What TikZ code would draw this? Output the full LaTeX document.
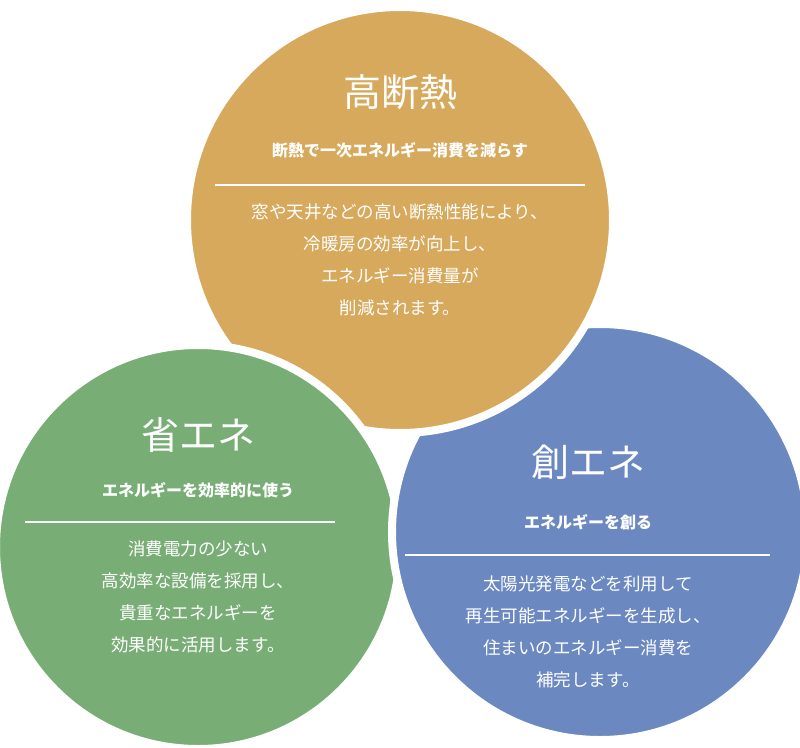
\documentclass[tikz,border=0pt]{standalone}
\usepackage{fontspec}
\newfontfamily\jp{Noto Sans CJK JP}
\tikzset{
 circ/.style={draw=white,line width=8pt},
 ttl/.style={text=white,font=\jp\fontsize{38}{40}\selectfont},
 sub/.style={text=white,font=\jp\bfseries\fontsize{16}{18}\selectfont},
 body/.style={text=white,align=center,font=\jp\fontsize{17.5}{32}\selectfont},
 sep/.style={draw=white,line width=1.5pt}
}
\definecolor{gold}{HTML}{D6A95C}
\definecolor{grn}{HTML}{78AE75}
\definecolor{blu}{HTML}{6B89C0}
\begin{document}
\begin{tikzpicture}[x=1pt,y=-1pt]
\useasboundingbox (0,0) rectangle (800,747);
\fill[white] (0,0) rectangle (800,747);
\path[circ,fill=gold] (400,220) circle (213);
\path[circ,fill=grn] (198,547) circle (202);
\path[circ,fill=blu] (600,532) circle (208);
\begin{scope}
\clip (398,300) -- (398,480) -- (800,480) -- (800,300) -- cycle;
\path[circ,fill=gold] (400,220) circle (213);
\end{scope}
\node[ttl] (t1) at (400,92) {高断熱};
\node[sub] (s1) at (400,150) {断熱で一次エネルギー消費を減らす};
\coordinate (a1) at (215,185); \coordinate (b1) at (585,185);
\draw[sep] (a1) -- (b1);
\node[body,anchor=north] (d1) at (400,200) {窓や天井などの高い断熱性能により、\\冷暖房の効率が向上し、\\エネルギー消費量が\\削減されます。};
\node[ttl] (t2) at (198,435) {省エネ};
\node[sub] (s2) at (198,490) {エネルギーを効率的に使う};
\coordinate (a2) at (25,522); \coordinate (b2) at (335,522);
\draw[sep] (a2) -- (b2);
\node[body,anchor=north] (d2) at (198,537) {消費電力の少ない\\高効率な設備を採用し、\\貴重なエネルギーを\\効果的に活用します。};
\node[ttl] (t3) at (588,462) {創エネ};
\node[sub] (s3) at (588,522) {エネルギーを創る};
\coordinate (a3) at (405,555); \coordinate (b3) at (770,555);
\draw[sep] (a3) -- (b3);
\node[body,anchor=north] (d3) at (588,572) {太陽光発電などを利用して\\再生可能エネルギーを生成し、\\住まいのエネルギー消費を\\補完します。};
\end{tikzpicture}
\end{document}
